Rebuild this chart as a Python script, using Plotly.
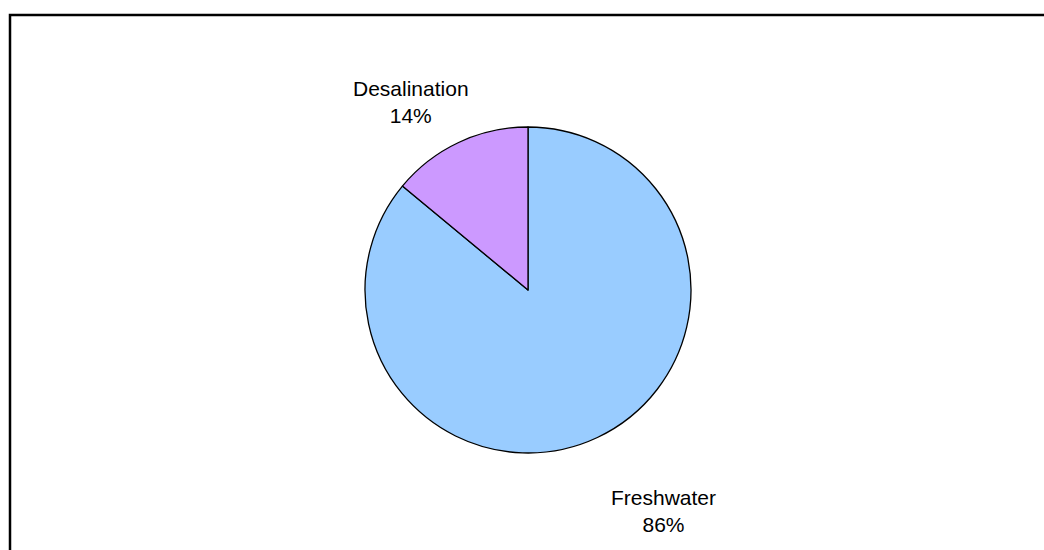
import plotly.graph_objects as go

labels = ["Freshwater", "Desalination"]
values = [86, 14]
colors = ["#99CCFF", "#CC99FF"]

# where the outside labels sit (paper coords) for each slice
label_x = [663 / 1044, 411 / 1044]
label_y = [1 - 511 / 550, 1 - 102 / 550]

fig = go.Figure()

fig.add_trace(
    go.Pie(labels=labels, values=values, sort=False, direction="clockwise",
           rotation=0, marker=dict(colors=colors, line=dict(color="black", width=1.3)),
           textinfo="none", hoverinfo="label+percent", showlegend=False,
           domain=dict(x=[0.3496, 0.6619], y=[0.1764, 0.7691]))
)

total = sum(values)
for name, v, lx, ly in zip(labels, values, label_x, label_y):
    fig.add_annotation(x=lx, y=ly, xref="paper", yref="paper", showarrow=False,
                       xanchor="center", yanchor="middle",
                       text=f"{name}<br>{round(100 * v / total)}%",
                       font=dict(family="Liberation Sans, Arial", size=21, color="black"),
                       align="center")

# chart area border (right and bottom run off the page)
fig.add_shape(type="rect", xref="paper", yref="paper",
              x0=10 / 1044, x1=1.05, y0=-0.05, y1=1 - 15 / 550,
              line=dict(color="black", width=2.5))

fig.update_layout(
    width=1044, height=550,
    margin=dict(l=0, r=0, t=0, b=0),
    paper_bgcolor="white", plot_bgcolor="white",
)

fig.write_html("out.html", config={"displayModeBar": False},
               post_script="document.body.style.margin='0';document.body.style.overflow='hidden';")
